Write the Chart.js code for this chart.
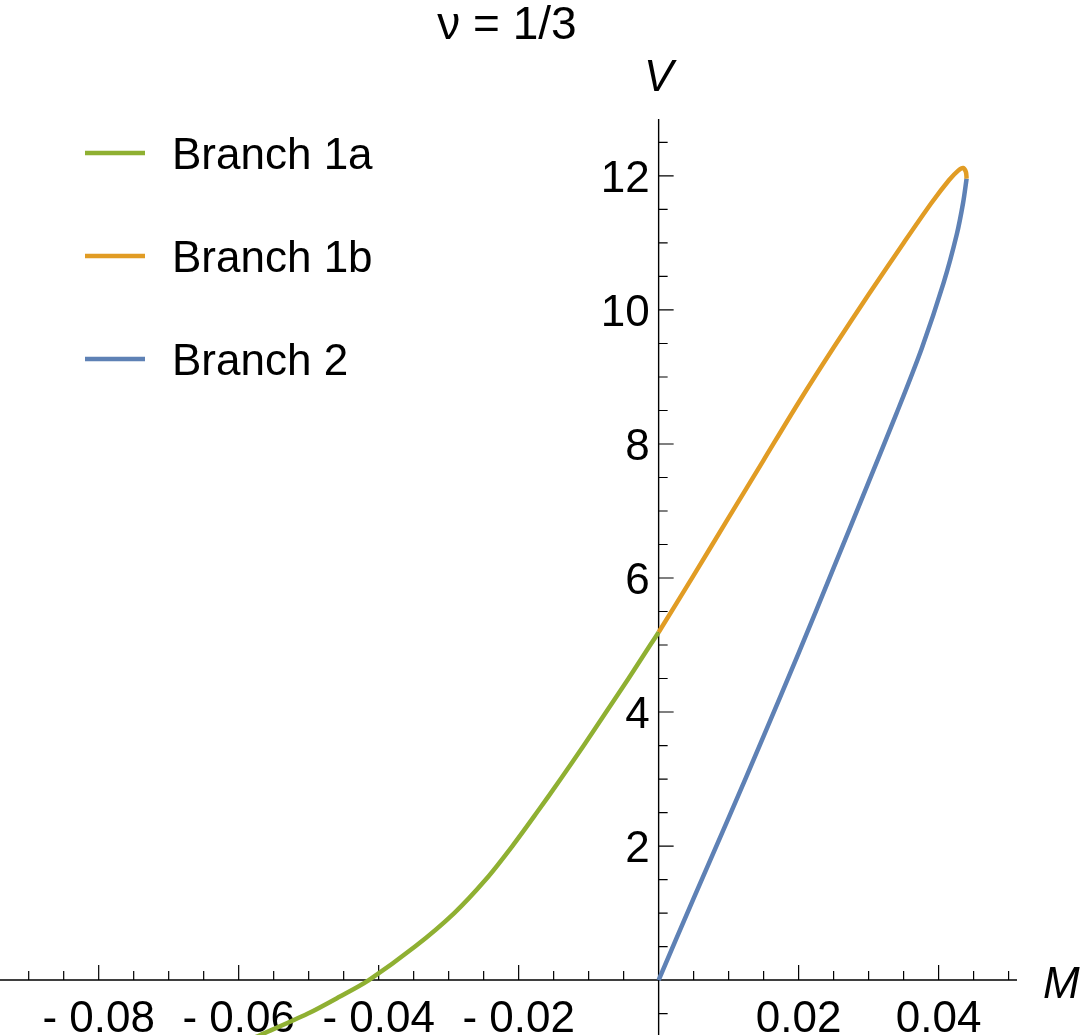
<!DOCTYPE html>
<html>
<head>
<meta charset="utf-8">
<script src="https://cdn.jsdelivr.net/npm/chart.js@4.4.1/dist/chart.umd.min.js"></script>
<style>
body { margin: 0; background: #fff; }
#wrap { width: 1080px; height: 1035px; position: relative; }
</style>
</head>
<body>
<div id="wrap"><canvas id="chart"></canvas></div>
<script>
const TITLE = 'ν = 1/3'; // plot label
const X_NAME = 'M'; // horizontal axis name
const Y_NAME = 'V'; // vertical axis name
const SERIES_NAMES = ['Branch 1a', 'Branch 1b', 'Branch 2']; // legend entries
const SERIES_COLORS = ['#8fb032', '#e19c24', '#5e81b5']; // Mathematica default palette

// Branch 1a (green)
const branch1aM = [-0.0598, -0.0569, -0.0501, -0.0456, -0.0414, -0.0348, -0.0292, -0.0247, -0.0209, -0.0174, -0.0140, -0.0107, -0.0075, -0.0043, -0.0012, 0];
const branch1aV = [-0.95, -0.82, -0.50, -0.25, 0, 0.5, 1.0, 1.5, 2.0, 2.5, 3.0, 3.5, 4.0, 4.5, 5.0, 5.19];

// Branch 1b (orange)
const branch1bM = [0, 0.005, 0.010, 0.015, 0.020, 0.025, 0.030, 0.035, 0.039, 0.0415, 0.0428, 0.0435, 0.0439, 0.0440];
const branch1bV = [5.19, 6.04, 6.90, 7.76, 8.62, 9.44, 10.23, 11.00, 11.60, 11.94, 12.08, 12.12, 12.06, 11.96];

// Branch 2 (blue)
const branch2M = [0, 0.005, 0.010, 0.015, 0.020, 0.025, 0.030, 0.034, 0.0376, 0.0407, 0.0426, 0.0435, 0.0440];
const branch2V = [0, 1.22, 2.42, 3.64, 4.88, 6.15, 7.43, 8.46, 9.43, 10.40, 11.13, 11.60, 11.96];

// tick labels
const xTickValues = [-0.08, -0.06, -0.04, -0.02, 0.02, 0.04];
const xTickLabels = ['- 0.08', '- 0.06', '- 0.04', '- 0.02', '0.02', '0.04'];
const yTickValues = [2, 4, 6, 8, 10, 12];
const yTickLabels = ['2', '4', '6', '8', '10', '12'];

const X_RANGE = [-0.0941, 0.0512]; // plot range M
const Y_RANGE = [-0.82, 12.85]; // plot range V
const FONT = '"Liberation Sans", Arial, sans-serif';

const toPoints = (ms, vs) => ms.map((m, i) => ({ x: m, y: vs[i] })); // zip arrays into points

const mmaAxes = { // axes through the origin, Mathematica style
    id: 'mmaAxes',
    beforeDatasetsDraw(chart) {
        const { ctx, chartArea: a, scales: { x, y } } = chart;
        const x0 = x.getPixelForValue(0);
        const y0 = y.getPixelForValue(0);
        ctx.save();
        ctx.strokeStyle = '#000';
        ctx.lineWidth = 1.4;
        ctx.beginPath();
        ctx.moveTo(a.left, y0); ctx.lineTo(a.right, y0);
        ctx.moveTo(x0, a.top); ctx.lineTo(x0, a.bottom);
        ctx.stroke();

        ctx.lineWidth = 1.2;
        ctx.beginPath();
        for (let i = -18; i <= 10; i++) { // x ticks every 0.005
            if (i === 0) continue;
            const px = x.getPixelForValue(i * 0.005);
            const len = i % 4 === 0 ? 15 : 9;
            ctx.moveTo(px, y0); ctx.lineTo(px, y0 - len);
        }
        for (let i = -1; i <= 25; i++) { // y ticks every 0.5
            if (i === 0) continue;
            const py = y.getPixelForValue(i * 0.5);
            const len = i % 4 === 0 ? 15 : 9;
            ctx.moveTo(x0, py); ctx.lineTo(x0 + len, py);
        }
        ctx.stroke();

        ctx.fillStyle = '#000';
        ctx.font = `44px ${FONT}`;
        ctx.textBaseline = 'alphabetic';
        ctx.textAlign = 'center';
        xTickValues.forEach((v, i) => ctx.fillText(xTickLabels[i], x.getPixelForValue(v), y0 + 52));
        ctx.textAlign = 'right';
        yTickValues.forEach((v, i) => ctx.fillText(yTickLabels[i], x0 - 9, y.getPixelForValue(v) + 16));

        ctx.font = `italic 44px ${FONT}`;
        ctx.textAlign = 'left';
        ctx.fillText(X_NAME, a.right + 26, y0 + 18);
        ctx.textAlign = 'center';
        ctx.fillText(Y_NAME, x0, a.top - 28);

        ctx.font = `46px ${FONT}`;
        ctx.fillText(TITLE, 507, 39);
        ctx.restore();
    },
    afterDatasetsDraw(chart) { // legend at top left
        const { ctx } = chart;
        ctx.save();
        ctx.font = `44px ${FONT}`;
        ctx.textAlign = 'left';
        ctx.textBaseline = 'alphabetic';
        chart.data.datasets.forEach((ds, i) => {
            const yl = 153 + i * 103;
            ctx.strokeStyle = ds.borderColor;
            ctx.lineWidth = 4.5;
            ctx.beginPath();
            ctx.moveTo(85, yl); ctx.lineTo(145, yl);
            ctx.stroke();
            ctx.fillStyle = '#000';
            ctx.fillText(ds.label, 172, yl + 16);
        });
        ctx.restore();
    }
};

new Chart(document.getElementById('chart'), {
    type: 'scatter',
    data: {
        datasets: [
            { label: SERIES_NAMES[0], data: toPoints(branch1aM, branch1aV), borderColor: SERIES_COLORS[0] },
            { label: SERIES_NAMES[1], data: toPoints(branch1bM, branch1bV), borderColor: SERIES_COLORS[1] },
            { label: SERIES_NAMES[2], data: toPoints(branch2M, branch2V), borderColor: SERIES_COLORS[2] },
        ].map(ds => ({ ...ds, showLine: true, borderWidth: 4.5, pointRadius: 0, tension: 0.3, fill: false })),
    },
    options: {
        responsive: true,
        maintainAspectRatio: false,
        animation: false,
        layout: { padding: { left: 0, right: 63, top: 119, bottom: 0 } },
        plugins: { legend: { display: false }, tooltip: { enabled: false } },
        elements: { line: { capBezierPoints: false, borderCapStyle: 'butt' } },
        scales: {
            x: { type: 'linear', min: X_RANGE[0], max: X_RANGE[1], display: false },
            y: { type: 'linear', min: Y_RANGE[0], max: Y_RANGE[1], display: false },
        },
    },
    plugins: [mmaAxes],
});
</script>
</body>
</html>
